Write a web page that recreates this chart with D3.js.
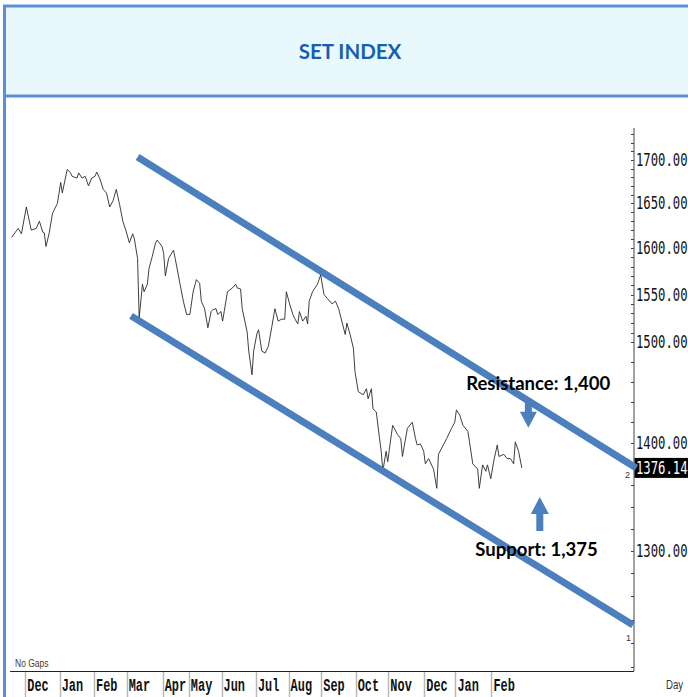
<!DOCTYPE html>
<html lang="en">
<head>
<meta charset="utf-8">
<title>SET Index</title>
<script src="https://cdnjs.cloudflare.com/ajax/libs/d3/7.8.5/d3.min.js"></script>
<style>
	body { margin: 0; background: #fff; }
	svg { display: block; }
	.title, .note { font-family: Lato, "Open Sans", sans-serif; font-weight: bold; }
	.yLabel { font-family: "DejaVu Sans Mono", monospace; }
	.month { font-family: "Liberation Mono", "Courier New", monospace; font-weight: bold; }
	.small { font-family: "Liberation Sans", Arial, sans-serif; }
</style>
</head>
<body>
<svg id="chart" width="688" height="697"></svg>
<script>

// trading session number (no gaps) and closing level
var sessions = [0,2,4,6,9,12,15,17,19,20,21,23,25,28,30,31,34,36,37,40,
	41,43,45,47,49,51,52,54,56,58,60,62,64,66,68,70,72,74,75,77,
	78,80,81,83,84,86,88,89,92,93,94,96,99,100,103,105,107,109,111,113,
	115,116,118,120,122,123,125,126,128,129,130,132,135,137,138,140,141,144,145,147,
	148,150,151,153,155,157,159,161,163,165,167,168,170,172,173,175,176,178,180,181,
	182,184,187,189,191,193,196,198,200,204,205,207,209,210,212,215,217,218,220,221,
	223,225,226,227,229,230,231,233,236,238,239,242,245,247,248,250,252,253,255,258,
	260,261,264,266,269,271,272,274,276,279,280,282,285,286,288,290,291,293,295,297,
	298,301,303,305,307,308,310,312]

var closes = [1612,1617,1622,1616,1646,1620,1622,1630,1618,1617,1602,1617,1639,1650,1674,1662,1689,1685,1681,1679,
	1685,1679,1681,1670,1679,1681,1686,1678,1666,1662,1646,1653,1666,1649,1630,1619,1606,1616,1611,1589,
	1525,1561,1553,1561,1578,1591,1606,1609,1602,1594,1570,1589,1598,1589,1561,1543,1529,1529,1553,1566,
	1562,1543,1535,1515,1532,1534,1535,1529,1532,1522,1532,1553,1557,1561,1557,1556,1535,1511,1491,1467,
	1491,1509,1513,1491,1489,1496,1515,1535,1522,1524,1524,1553,1540,1529,1525,1519,1532,1522,1527,1519,
	1543,1553,1561,1571,1550,1546,1540,1543,1535,1508,1520,1508,1494,1470,1450,1447,1453,1443,1453,1433,
	1430,1404,1392,1373,1392,1382,1394,1417,1408,1404,1387,1414,1420,1404,1398,1399,1392,1380,1385,1375,
	1357,1389,1398,1404,1414,1420,1432,1427,1417,1411,1401,1380,1375,1357,1379,1373,1379,1366,1384,1398,
	1387,1389,1385,1385,1380,1401,1392,1376.14]

var monthNames = ["Dec","Jan","Feb","Mar","Apr","May","Jun","Jul","Aug","Sep","Oct","Nov","Dec","Jan","Feb"]
var monthStarts = [9,30,51,71,93,109,129,150,170,190,211,231,253,272,294]

var priceLabels = [1700,1650,1600,1550,1500,1400,1300]
var lastClose = 1376.14

// channel lines: [session, level] at both ends
var resistanceSessions = [77, 382]
var resistanceValues = [1703.5, 1376]
var supportSessions = [73, 380]
var supportValues = [1527.5, 1235.5]

// annotation anchors
var resistanceNote = {text: "Resistance: 1,400", session: 322, value: 1452, arrowSession: 316, arrowValue: 1414.6}
var supportNote = {text: "Support: 1,375", session: 321, value: 1295, arrowSession: 323, arrowValue: 1349}

// colours
var frameBlue = "#5b8fd4"
var channelBlue = "#4b7fbd"
var headerFill = "#e9f8fc"
var titleBlue = "#1460ae"

var W = 688, H = 697
var plot = {left: 10, right: 634, top: 128, bottom: 671}

var svg = d3.select("#chart")

var x = d3.scaleLinear().domain([-1, 380.6]).range([plot.left, plot.right])
var y = d3.scaleLog().domain([1197.1, 1737.7]).range([plot.bottom, plot.top])

// header box
svg.append("rect")
	.attr("x", 4).attr("y", 6)
	.attr("width", W).attr("height", 90)
	.attr("fill", headerFill)

svg.append("text")
	.attr("class", "title")
	.attr("x", 350).attr("y", 59)
	.attr("text-anchor", "middle")
	.attr("font-size", 20.5)
	.attr("fill", titleBlue)
	.text("SET INDEX")

svg.append("line").attr("x1", 3).attr("x2", W).attr("y1", 6).attr("y2", 6)
	.attr("stroke", frameBlue).attr("stroke-width", 3)
svg.append("line").attr("x1", 3).attr("x2", W).attr("y1", 96).attr("y2", 96)
	.attr("stroke", frameBlue).attr("stroke-width", 3)
svg.append("line").attr("x1", 4.5).attr("x2", 4.5).attr("y1", 5).attr("y2", H)
	.attr("stroke", frameBlue).attr("stroke-width", 3)

// right price axis
var axisG = svg.append("g")
axisG.append("line")
	.attr("x1", plot.right).attr("x2", plot.right)
	.attr("y1", plot.top).attr("y2", plot.bottom)
	.attr("stroke", "#444")

var minorTicks = d3.range(1200, 1500, 20).concat(d3.range(1500, 1740, 10))
	.filter(v => v >= y.domain()[0] && v <= y.domain()[1])

axisG.selectAll(".minor")
	.data(minorTicks)
	.enter()
	.append("line")
	.attr("class", "minor")
	.attr("x1", plot.right - 3).attr("x2", plot.right)
	.attr("y1", d => Math.round(y(d)) + 0.5)
	.attr("y2", d => Math.round(y(d)) + 0.5)
	.attr("stroke", "#444")

axisG.selectAll(".yLabel")
	.data(priceLabels)
	.enter()
	.append("text")
	.attr("class", "yLabel")
	.attr("font-size", 17)
	.attr("fill", "#111")
	.attr("transform", d => "translate(" + (plot.right + 2) + "," + (y(d) + 6) + ") scale(0.72,1)")
	.text(d => d3.format(".2f")(d))

// last price box
axisG.append("rect")
	.attr("x", plot.right + 0.5).attr("y", y(lastClose) - 10)
	.attr("width", W - plot.right).attr("height", 20)
	.attr("fill", "#000")
axisG.append("text")
	.attr("class", "yLabel")
	.attr("font-size", 17)
	.attr("fill", "#fff")
	.attr("transform", "translate(" + (plot.right + 2) + "," + (y(lastClose) + 6) + ") scale(0.72,1)")
	.text(d3.format(".2f")(lastClose))

// bottom time axis
svg.append("line")
	.attr("x1", plot.left).attr("x2", plot.right)
	.attr("y1", plot.bottom + 0.5).attr("y2", plot.bottom + 0.5)
	.attr("stroke", "#222")

svg.selectAll(".sep")
	.data(monthStarts)
	.enter()
	.append("line")
	.attr("class", "sep")
	.attr("x1", d => Math.round(x(d)) - 0.5)
	.attr("x2", d => Math.round(x(d)) - 0.5)
	.attr("y1", plot.bottom + 1).attr("y2", H)
	.attr("stroke", "#b8b8b8").attr("stroke-width", 1.5)

svg.selectAll(".month")
	.data(monthStarts)
	.enter()
	.append("text")
	.attr("class", "month")
	.attr("font-size", 18)
	.attr("fill", "#111")
	.attr("transform", d => "translate(" + (x(d) + 1) + "," + 691 + ") scale(0.66,1)")
	.text((d, i) => monthNames[i])

svg.append("text")
	.attr("class", "small")
	.attr("font-size", 10)
	.attr("fill", "#4a3a32")
	.attr("transform", "translate(15,667) scale(0.85,1)")
	.text("No Gaps")

svg.append("text")
	.attr("class", "small")
	.attr("font-size", 12)
	.attr("fill", "#333")
	.attr("transform", "translate(666,689) scale(0.8,1)")
	.text("Day")

// price line
var priceLine = d3.line()
	.x((d, i) => x(sessions[i]))
	.y(d => y(d))

svg.append("path")
	.datum(closes)
	.attr("d", priceLine)
	.attr("fill", "none")
	.attr("stroke", "#2a2a2a")
	.attr("stroke-width", 0.9)
	.attr("stroke-linejoin", "round")

// channel lines
var channelLine = d3.line()
	.x(d => x(d[0]))
	.y(d => y(d[1]))

svg.append("path")
	.datum(resistanceSessions.map((s, i) => [s, resistanceValues[i]]))
	.attr("d", channelLine)
	.attr("stroke", channelBlue)
	.attr("stroke-width", 7)
	.attr("fill", "none")

svg.append("path")
	.datum(supportSessions.map((s, i) => [s, supportValues[i]]))
	.attr("d", channelLine)
	.attr("stroke", channelBlue)
	.attr("stroke-width", 7)
	.attr("fill", "none")

// line numbers next to the axis
svg.append("text")
	.attr("class", "small")
	.attr("font-size", 9)
	.attr("fill", "#333")
	.attr("x", plot.right - 9)
	.attr("y", y(resistanceValues[1]) + 10)
	.text("2")
svg.append("text")
	.attr("class", "small")
	.attr("font-size", 9)
	.attr("fill", "#333")
	.attr("x", plot.right - 8)
	.attr("y", y(supportValues[1]) + 16)
	.text("1")

// arrows
var ax = x(resistanceNote.arrowSession), ay = y(resistanceNote.arrowValue)
svg.append("path")
	.attr("d", "M" + ax + "," + ay +
		" l-8.5,-16 h5 v-12 h7 v12 h5 z")
	.attr("fill", channelBlue)

var bx = x(supportNote.arrowSession), by = y(supportNote.arrowValue)
svg.append("path")
	.attr("d", "M" + bx + "," + by +
		" l9,17 h-5.5 v17 h-7 v-17 h-5.5 z")
	.attr("fill", channelBlue)

// notes
svg.selectAll(".note")
	.data([resistanceNote, supportNote])
	.enter()
	.append("text")
	.attr("class", "note")
	.attr("font-size", 18.5)
	.attr("fill", "#000")
	.attr("text-anchor", "middle")
	.attr("x", d => x(d.session))
	.attr("y", d => y(d.value))
	.text(d => d.text)

</script>
</body>
</html>
